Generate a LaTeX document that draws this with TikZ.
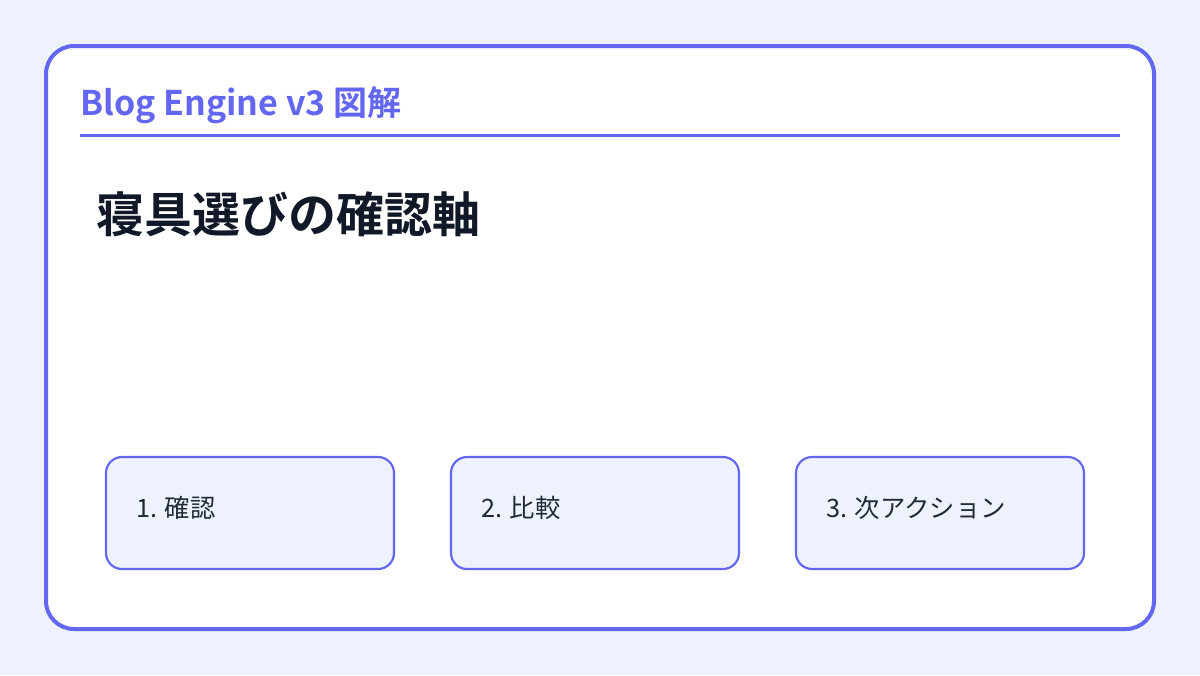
\documentclass[tikz,border=0pt]{standalone}
\usepackage{fontspec}
\setmainfont{Noto Sans CJK JP}
\newfontfamily\jpbold{Noto Sans CJK JP Bold}
\definecolor{indigo}{HTML}{6366F1}
\definecolor{pagebg}{HTML}{EEF2FD}
\definecolor{boxbg}{HTML}{EEF2FD}
\definecolor{ink}{HTML}{111827}
\definecolor{boxink}{HTML}{1F2937}
\begin{document}
\begin{tikzpicture}[x=0.75pt,y=-0.75pt,
  card/.style={draw=indigo,line width=3pt,fill=white,rounded corners=21pt},
  stepcard/.style={draw=indigo,line width=1.6pt,fill=boxbg,rounded corners=12pt},
  steplabel/.style={anchor=base west,inner sep=0pt,text=boxink,font=\fontsize{19pt}{22pt}\selectfont},
]
\fill[pagebg] (0,0) rectangle (1200,675);
\useasboundingbox (0,0) rectangle (1200,675);
\draw[card] (46,46) rectangle (1154,629);
\node[anchor=base west,inner sep=0pt,text=indigo,font=\jpbold\fontsize{25.5pt}{28pt}\selectfont] (hdr) at (80,115) {Blog Engine v3 図解};
\coordinate (l1) at (80,135);
\coordinate (l2) at (1120,135);
\draw[indigo,line width=2.25pt] (l1) -- (l2);
\node[anchor=base west,inner sep=0pt,text=ink,font=\jpbold\fontsize{36pt}{40pt}\selectfont] (title) at (96,232) {寝具選びの確認軸};
\draw[stepcard] (106,457) rectangle (394,569);
\draw[stepcard] (451,457) rectangle (739,569);
\draw[stepcard] (796,457) rectangle (1084,569);
\node[steplabel] (s1) at (136,517) {1. 確認};
\node[steplabel] (s2) at (481,517) {2. 比較};
\node[steplabel] (s3) at (826,517) {3. 次アクション};
\end{tikzpicture}
\end{document}
